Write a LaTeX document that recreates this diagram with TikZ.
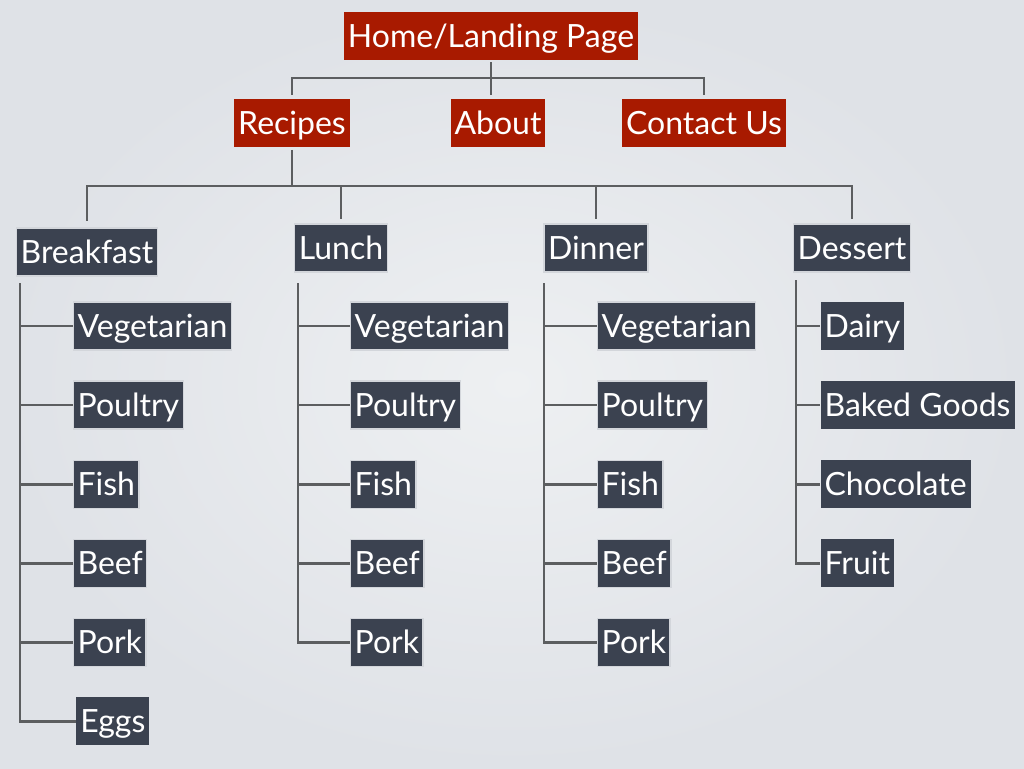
\documentclass[tikz,border=0pt]{standalone}
\usepackage{xcolor}
\usepackage{fontspec}
\setmainfont{Lato}
\usepackage{tikz}
\usetikzlibrary{positioning}

\definecolor{bgedge}{HTML}{DFE2E7}
\definecolor{bgmid}{HTML}{EEF0F2}
\definecolor{pagered}{HTML}{A81A00}
\definecolor{slate}{HTML}{3B4250}
\definecolor{frame}{HTML}{D3D6DB}
\definecolor{linkgray}{HTML}{5C5E60}

\begin{document}
\begin{tikzpicture}[x=0.75pt, y=-0.75pt, node distance=22.4pt,
    page/.style={fill=pagered, text=white, inner xsep=3pt, inner ysep=0pt, minimum height=36pt,
      text height=20pt, text depth=3pt, font=\fontsize{24}{24}\selectfont},
    group/.style={fill=slate, draw=frame, line width=0.9pt, text=white, inner xsep=3pt, inner ysep=0pt,
      minimum height=36pt, text height=20pt, text depth=3pt, font=\fontsize{24}{24}\selectfont},
    item/.style={group},
    plainitem/.style={group, draw=none},
    link/.style={draw=linkgray, line width=2.1pt}]
      \shade[inner color=bgmid, outer color=bgedge] (0,0) rectangle (1024,768);
      \useasboundingbox (0,0) rectangle (1024,768);

      % Pages
      \node[page] (home) at (491,36) {Home/Landing Page};
      \node[page] (recipes) at (292,123) {Recipes};
      \node[page] (about) at (498,123) {About};
      \node[page] (contact) at (704,123) {Contact Us};

      % Meals
      \node[group] (breakfast) at (87,252) {Breakfast};
      \node[group] (lunch) at (341,248) {Lunch};
      \node[group] (dinner) at (596,248) {Dinner};
      \node[group] (dessert) at (852,248) {Dessert};

      % Breakfast
      \node[item, anchor=west] (bkveg) at (73,326) {Vegetarian};
      \node[item, below=of bkveg.south west, anchor=north west] (bkpoultry) {Poultry};
      \node[item, below=of bkpoultry.south west, anchor=north west] (bkfish) {Fish};
      \node[item, below=of bkfish.south west, anchor=north west] (bkbeef) {Beef};
      \node[item, below=of bkbeef.south west, anchor=north west] (bkpork) {Pork};
      \node[plainitem, below=of bkpork.south west, anchor=north west, xshift=2pt] (bkeggs) {Eggs};

      % Lunch
      \node[item, anchor=west] (luveg) at (350,326) {Vegetarian};
      \node[item, below=of luveg.south west, anchor=north west] (lupoultry) {Poultry};
      \node[item, below=of lupoultry.south west, anchor=north west] (lufish) {Fish};
      \node[item, below=of lufish.south west, anchor=north west] (lubeef) {Beef};
      \node[item, below=of lubeef.south west, anchor=north west] (lupork) {Pork};

      % Dinner
      \node[item, anchor=west] (diveg) at (597,326) {Vegetarian};
      \node[item, below=of diveg.south west, anchor=north west] (dipoultry) {Poultry};
      \node[item, below=of dipoultry.south west, anchor=north west] (difish) {Fish};
      \node[item, below=of difish.south west, anchor=north west] (dibeef) {Beef};
      \node[item, below=of dibeef.south west, anchor=north west] (dipork) {Pork};

      % Dessert
      \node[plainitem, anchor=west] (dsdairy) at (820,326) {Dairy};
      \node[plainitem, below=of dsdairy.south west, anchor=north west] (dsbaked) {Baked Goods};
      \node[plainitem, below=of dsbaked.south west, anchor=north west] (dschoc) {Chocolate};
      \node[plainitem, below=of dschoc.south west, anchor=north west] (dsfruit) {Fruit};

      % Top level links
      \coordinate (topbus) at (491,78);
      \draw[link, shorten <=1.5pt] (home.south) -- (topbus);
      \draw[link, shorten >=3pt] (topbus) -| (recipes.north);
      \draw[link, shorten >=3pt] (topbus) -- (topbus |- about.north);
      \draw[link, shorten >=3pt] (topbus) -| (contact.north);

      % Meal links
      \coordinate (mealbus) at (292,186);
      \draw[link, shorten <=2pt] (recipes.south) -- (mealbus);
      \draw[link, shorten >=5pt] (mealbus) -| (breakfast.north);
      \draw[link, shorten >=3pt] (mealbus) -| (lunch.north);
      \draw[link, shorten >=3pt] (mealbus) -| (dinner.north);
      \draw[link, shorten >=3pt] (mealbus) -| (dessert.north);

      % Item links
      \coordinate (bkspine) at (20,283);
      \draw[link] (bkspine) |- (bkveg.west);
      \draw[link] (bkspine) |- (bkpoultry.west);
      \draw[link] (bkspine) |- (bkfish.west);
      \draw[link] (bkspine) |- (bkbeef.west);
      \draw[link] (bkspine) |- (bkpork.west);
      \draw[link] (bkspine) |- (bkeggs.west);

      \coordinate (luspine) at (298,283);
      \draw[link] (luspine) |- (luveg.west);
      \draw[link] (luspine) |- (lupoultry.west);
      \draw[link] (luspine) |- (lufish.west);
      \draw[link] (luspine) |- (lubeef.west);
      \draw[link] (luspine) |- (lupork.west);

      \coordinate (dispine) at (544,283);
      \draw[link] (dispine) |- (diveg.west);
      \draw[link] (dispine) |- (dipoultry.west);
      \draw[link] (dispine) |- (difish.west);
      \draw[link] (dispine) |- (dibeef.west);
      \draw[link] (dispine) |- (dipork.west);

      \coordinate (dsspine) at (796,280);
      \draw[link] (dsspine) |- (dsdairy.west);
      \draw[link] (dsspine) |- (dsbaked.west);
      \draw[link] (dsspine) |- (dschoc.west);
      \draw[link] (dsspine) |- (dsfruit.west);
    \end{tikzpicture}
\end{document}
